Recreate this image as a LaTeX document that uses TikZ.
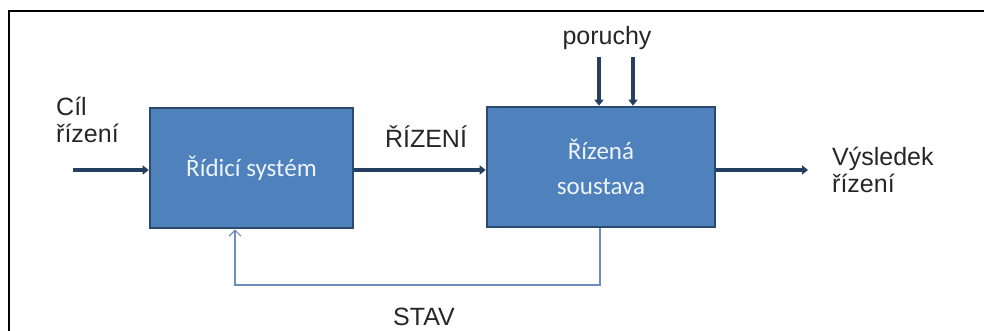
\documentclass[tikz,border=0pt]{standalone}
\usepackage{fontspec}
\setmainfont{Liberation Sans}
\newfontfamily\boxfont{Carlito}
\usetikzlibrary{arrows.meta}
\definecolor{boxfill}{HTML}{4F81BD}
\definecolor{boxedge}{HTML}{2B4A70}
\definecolor{arrowc}{HTML}{243F60}
\definecolor{fbc}{HTML}{6E8DB8}
\definecolor{txt}{HTML}{262626}
\definecolor{boxtxt}{HTML}{EEF4FB}
\begin{document}
\begin{tikzpicture}[x=1pt,y=-1pt,
  blk/.style={draw=boxedge,line width=2.6pt,fill=boxfill,inner sep=0pt,
    text=boxtxt,font=\boxfont\fontsize{25}{35}\selectfont,align=center},
  thick arrow/.style={draw=arrowc,line width=4pt,-{Triangle[length=6pt,width=9pt]}},
  lbl/.style={text=txt,font=\fontsize{25}{27}\selectfont,inner sep=0pt}]
\useasboundingbox (0,0) rectangle (984,331);
\draw[line width=2pt,black] (9,331) -- (9,11) -- (984,11);
\node[blk,minimum width=203pt,minimum height=120pt] (rs) at (251.5,168) {Řídicí systém};
\node[blk,minimum width=228pt,minimum height=120pt] (ss) at (601,167) {Řízená\\soustava};
\coordinate (in) at (73,170);
\coordinate (out) at (808,170);
\coordinate (p1) at (599,57);
\coordinate (p2) at (633,57);
\draw[thick arrow] (in) -- (in -| rs.west);
\draw[thick arrow] (rs.east |- in) -- (ss.west |- in);
\draw[thick arrow] (ss.east |- out) -- (out);
\draw[thick arrow] (p1) -- (p1 |- ss.north);
\draw[thick arrow] (p2) -- (p2 |- ss.north);
\coordinate (fb1) at (600,285);
\coordinate (fb2) at (235,285);
\draw[fbc,line width=1.2pt,-{Straight Barb[length=6pt,width=12pt]}] (fb1 |- ss.south) -- (fb1) -- (fb2) -- (fb2 |- rs.south);
\node[lbl,align=left,anchor=base west] (cil) at (56,143) {Cíl\\řízení};
\node[lbl,anchor=base] (rizeni) at (426,148) {ŘÍZENÍ};
\node[lbl,anchor=base] (poruchy) at (607,45) {poruchy};
\node[lbl,anchor=base] (stav) at (424,325) {STAV};
\node[lbl,align=left,anchor=base west] (vys) at (832,193) {Výsledek\\řízení};
\end{tikzpicture}
\end{document}
